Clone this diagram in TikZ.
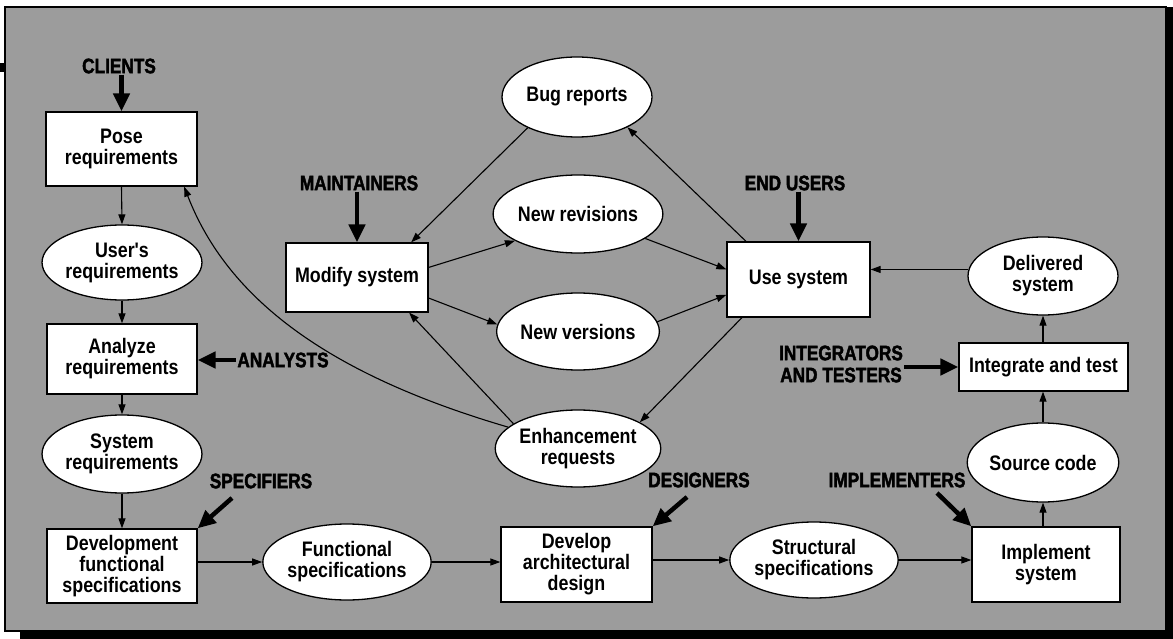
\documentclass[tikz,border=0pt]{standalone}
\usepackage{fontspec}
\setmainfont{Liberation Sans}
\newfontfamily\nodefont{Liberation Sans}[FakeStretch=0.85]
\newfontfamily\actorfont{Liberation Sans}[FakeStretch=0.82,FakeBold=2]
\usetikzlibrary{shapes.geometric,arrows.meta,calc}
\definecolor{bggray}{gray}{0.61}
\begin{document}
\begin{tikzpicture}[x=1pt,y=-1pt,
  box/.style={draw=black, line width=1.3pt, fill=white, rectangle, inner sep=0pt, align=center,
    font={\nodefont\bfseries\fontsize{21}{21}\selectfont}},
  ell/.style={box, ellipse},
  actor/.style={inner sep=1pt, align=center, font={\actorfont\bfseries\fontsize{21}{22}\selectfont}},
  conn/.style={line width=1.1pt, -{Triangle[length=10pt,width=7pt]}},
  act/.style={line width=4.5pt, -{Triangle[length=18pt,width=16pt]}}]
\useasboundingbox (0,0) rectangle (1173,639);
% frame with shadow
\fill[black] (20,630) rectangle (1173,639);
\fill[black] (1165,7) rectangle (1173,639);
\filldraw[fill=bggray, draw=black, line width=1.5pt] (5,7) rectangle (1166,631);
\fill[black] (0,63) rectangle (5,72);

% process boxes
\node[box, minimum width=151pt, minimum height=74pt] (pose) at (121.5,149) {Pose\\requirements};
\node[box, minimum width=150pt, minimum height=70pt] (ana) at (122,359) {Analyze\\requirements};
\node[box, minimum width=150pt, minimum height=74pt] (dev) at (122,566) {Development\\functional\\specifications};
\node[box, minimum width=142pt, minimum height=69pt] (mod) at (357,277.5) {Modify system};
\node[box, minimum width=143pt, minimum height=75pt] (use) at (798.5,279.5) {Use system};
\node[box, minimum width=151pt, minimum height=75pt] (arch) at (576.5,564.5) {Develop\\architectural\\design};
\node[box, minimum width=148pt, minimum height=75pt] (impl) at (1046,564.5) {Implement\\system};
\node[box, minimum width=169pt, minimum height=48pt] (integ) at (1043.5,367) {Integrate and test};

% data ellipses
\node[ell, minimum width=150pt, minimum height=75pt] (usr) at (122,262.5) {User's\\requirements};
\node[ell, minimum width=150pt, minimum height=78pt] (sys) at (122,454) {System\\requirements};
\node[ell, minimum width=150pt, minimum height=80pt] (bug) at (577,97) {Bug reports};
\node[ell, minimum width=150pt, minimum height=78pt] (rev) at (578,214) {New revisions};
\node[ell, minimum width=150pt, minimum height=77pt] (ver) at (578,331.5) {New versions};
\node[ell, minimum width=150pt, minimum height=77pt] (enh) at (578,448.5) {Enhancement\\requests};
\node[ell, minimum width=148pt, minimum height=76pt] (func) at (347,562) {Functional\\specifications};
\node[ell, minimum width=148pt, minimum height=76pt] (struct) at (814,560) {Structural\\specifications};
\node[ell, minimum width=150pt, minimum height=78pt] (deliv) at (1043,276) {Delivered\\system};
\node[ell, minimum width=150pt, minimum height=79pt] (src) at (1043,462.5) {Source code};

% actors
\node[actor] (clients) at (119,66) {CLIENTS};
\node[actor] (maint) at (359,183) {MAINTAINERS};
\node[actor] (analysts) at (283,360) {ANALYSTS};
\node[actor] (spec) at (261,481) {SPECIFIERS};
\node[actor] (endu) at (795,183) {END USERS};
\node[actor] (des) at (699,480) {DESIGNERS};
\node[actor] (impls) at (897,480) {IMPLEMENTERS};
\node[actor] (intl) at (841,364) {INTEGRATORS\\AND TESTERS};
\coordinate (specA) at (232,498);
\coordinate (desA) at (687,497);
\coordinate (implA) at (937,493);

% actor arrows
\draw[act] (clients.south -| pose.north) -- (pose.north);
\draw[act] (maint.south -| mod.north) -- (mod.north);
\draw[act] (analysts.west) -- (analysts.west -| ana.east);
\draw[act] (specA) -- (dev.north east);
\draw[act] (endu.south -| use.north) -- (use.north);
\draw[act] (desA) -- (arch.north east);
\draw[act] (implA) -- (impl.north west);
\draw[act] (integ.west -| intl.east) -- (integ.west);

% left column flow
\draw[conn] (pose.south) -- (usr.north);
\draw[conn] (usr.south) -- (ana.north);
\draw[conn] (ana.south) -- (sys.north);
\draw[conn] (sys.south) -- (dev.north);
% bottom row
\draw[conn] (func.west -| dev.east) -- (func.west);
\draw[conn] (func.east) -- (func.east -| arch.west);
\draw[conn] (arch.east |- struct.west) -- (struct.west);
\draw[conn] (struct.east) -- (struct.east -| impl.west);
% right column
\draw[conn] (impl.north -| src.south) -- (src.south);
\draw[conn] (src.north) -- (src.north |- integ.south);
\draw[conn] (integ.north -| deliv.south) -- (deliv.south);
\draw[conn] (deliv.175) -- (deliv.175 -| use.east);
% maintenance loop
\draw[conn] (use.144) -- (bug.-31);
\draw[conn] (bug.212) -- (mod.33);
\draw[conn] (mod.8) -- (rev.203);
\draw[conn] (mod.-16) -- (ver.175);
\draw[conn] (rev.-20) -- (use.172);
\draw[conn] (ver.7) -- (use.192);
\draw[conn] (use.214.7) -- (enh.23);
\draw[conn] (enh.159) -- (mod.-34.6);
\draw[conn] (enh.163) .. controls (330,375) and (228,300) .. (pose.-31.4);
\end{tikzpicture}
\end{document}
